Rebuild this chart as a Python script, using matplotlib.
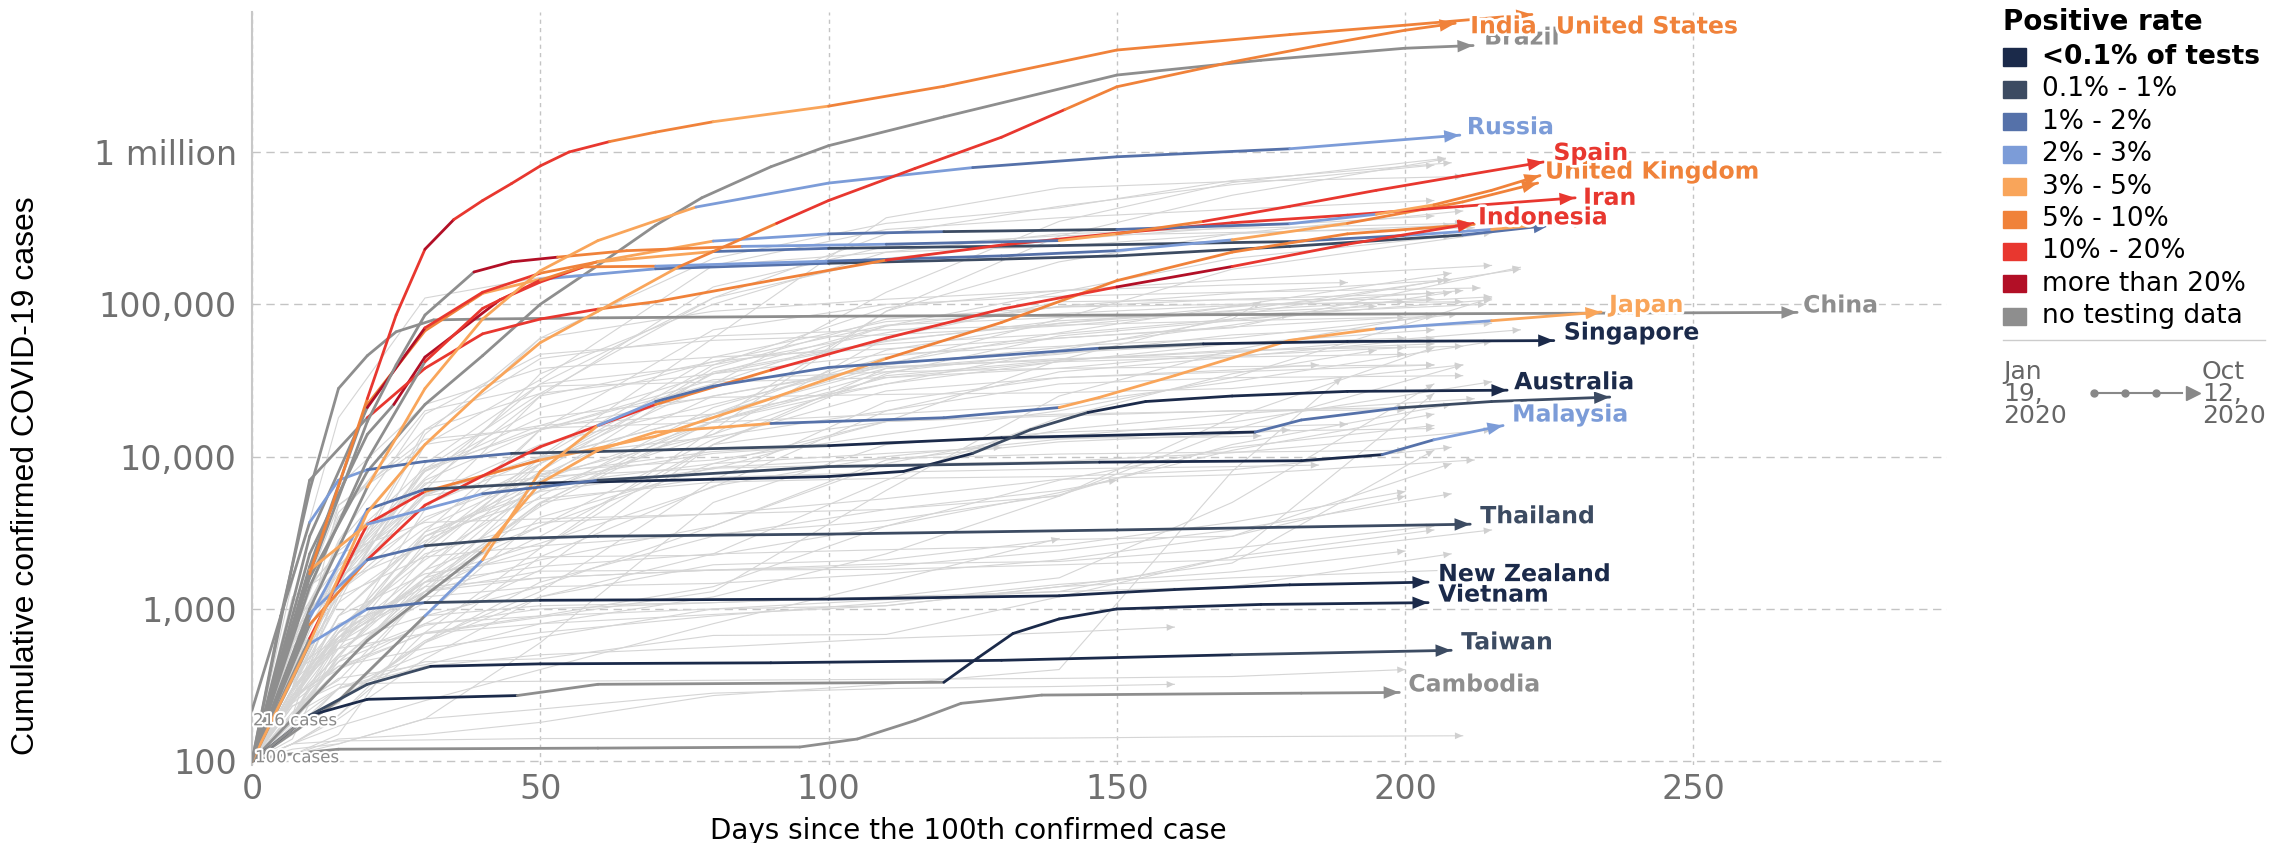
import numpy as np
import matplotlib.pyplot as plt
from matplotlib.collections import LineCollection
from matplotlib.patches import Rectangle
from matplotlib.lines import Line2D
from matplotlib.ticker import NullLocator
import matplotlib.patheffects as pe

plt.rcParams['font.family'] = 'DejaVu Sans'

# ---------------- colour classes (positive rate) ----------------
rate_labels = ['<0.1% of tests', '0.1% - 1%', '1% - 2%', '2% - 3%', '3% - 5%',
               '5% - 10%', '10% - 20%', 'more than 20%', 'no testing data']
rate_colors = ['#1b2a4a', '#3c4b62', '#5571a9', '#7c9cd8', '#f9a55a',
               '#f0823a', '#e8372f', '#b20f26', '#8e8e8e']

# ---------------- background countries (light grey) ----------------
bg_knots = [0, 7, 15, 30, 50, 80, 110, 140, 170]
bg_end_day = [205, 207, 207, 208, 210, 205, 210, 210, 212, 205,
              220, 220, 215, 208, 208, 215, 215, 220, 215, 209,
              214, 208, 208, 210, 207, 208, 190, 213, 205, 200,
              200, 185, 180, 208, 215, 215, 208, 210, 215, 205,
              208, 205, 205, 205, 200, 205, 210, 200, 189, 160,
              175, 185, 200, 212, 205, 190, 205, 200, 205, 205,
              215, 215, 200, 215, 205, 200, 195, 210, 205, 195,
              175, 180, 200, 210, 205, 208, 205, 208, 208, 205,
              212, 210, 210, 205, 205, 205, 200, 200, 200, 150,
              140, 160, 130]
bg_cases = [
    [100, 370, 1500, 8300, 26000, 110000, 290000, 440000, 610000, 820000],
    [100, 300, 1100, 2800, 6000, 17000, 90000, 280000, 520000, 900000],
    [100, 500, 1600, 3800, 9000, 30000, 120000, 350000, 630000, 910000],
    [100, 400, 1100, 12000, 60000, 200000, 340000, 430000, 650000, 850000],
    [100, 700, 1500, 2600, 10000, 60000, 370000, 580000, 640000, 690000],
    [100, 630, 2700, 12000, 32000, 180000, 310000, 370000, 420000, 480000],
    [100, 250, 700, 1500, 2500, 15000, 90000, 190000, 290000, 410000],
    [100, 560, 1300, 6000, 35000, 100000, 220000, 290000, 315000, 340000],
    [100, 1000, 2400, 6500, 25000, 130000, 240000, 282000, 296000, 318000],
    [100, 260, 1200, 9000, 30000, 110000, 200000, 265000, 320000, 380000],
    [100, 800, 6400, 22000, 38000, 45000, 51000, 60000, 70000, 175000],
    [100, 600, 2800, 19000, 47000, 58000, 63000, 72000, 90000, 170000],
    [100, 400, 1400, 14000, 60000, 90000, 108000, 123000, 145000, 180000],
    [100, 400, 1900, 8000, 16000, 35000, 72000, 120000, 200000, 280000],
    [100, 1500, 18000, 110000, 150000, 180000, 220000, 240000, 290000, 330000],
    [100, 300, 4800, 12000, 16000, 19000, 40000, 80000, 170000, 295000],
    [100, 300, 1500, 6700, 8000, 9500, 14000, 20000, 33000, 110000],
    [100, 650, 4000, 20000, 29000, 30900, 33000, 38000, 48000, 68000],
    [100, 800, 4800, 13000, 15400, 16800, 19000, 22000, 31000, 57000],
    [100, 640, 4300, 15000, 26000, 35000, 47000, 53000, 60000, 86000],
    [100, 620, 1900, 8000, 21000, 42000, 73000, 82000, 85000, 100000],
    [100, 700, 2500, 8400, 15000, 25000, 40000, 52000, 73000, 120000],
    [100, 300, 1300, 5500, 12000, 22000, 41000, 65000, 97000, 160000],
    [100, 250, 650, 2500, 8000, 38000, 80000, 96000, 100000, 104000],
    [100, 280, 900, 3200, 5900, 8300, 17000, 43000, 84000, 145000],
    [100, 800, 1900, 7200, 30000, 40000, 65000, 97000, 118000, 145000],
    [100, 300, 700, 2500, 9000, 40000, 95000, 123000, 134000, 139000],
    [100, 400, 550, 2700, 15000, 68000, 100000, 113000, 120000, 128000],
    [100, 300, 750, 2100, 6000, 14000, 60000, 104000, 107000, 108000],
    [100, 230, 340, 1300, 5000, 17000, 36000, 48000, 55000, 60000],
    [100, 200, 400, 1500, 4700, 17000, 33000, 42000, 45000, 47000],
    [100, 180, 250, 620, 1300, 7000, 23000, 33000, 37000, 40000],
    [100, 130, 200, 700, 2500, 12000, 35000, 62000, 78000, 85000],
    [100, 460, 1200, 2200, 2600, 3100, 3800, 5600, 12000, 22000],
    [100, 1200, 1900, 5500, 7400, 8400, 8900, 9300, 10600, 15000],
    [100, 900, 1300, 3400, 7700, 10800, 12300, 13600, 16800, 31000],
    [100, 270, 700, 3000, 5300, 6800, 7200, 7400, 8200, 11500],
    [100, 300, 1300, 8100, 18000, 24500, 25600, 26300, 28000, 40000],
    [100, 330, 650, 1300, 1770, 1800, 1820, 1950, 2100, 3300],
    [100, 270, 600, 1300, 1600, 1800, 1980, 2050, 2500, 3500],
    [100, 350, 800, 1200, 1400, 1470, 1700, 2100, 3000, 9000],
    [100, 250, 900, 1700, 2200, 2250, 3500, 5800, 11000, 19000],
    [100, 300, 550, 690, 800, 1200, 2300, 5500, 18000, 52000],
    [100, 210, 350, 430, 650, 1000, 1150, 1300, 2200, 26000],
    [100, 260, 420, 550, 700, 900, 1100, 1450, 1750, 2400],
    [100, 240, 420, 690, 880, 1300, 6000, 25000, 50000, 86000],
    [100, 600, 1700, 5600, 9700, 19000, 50000, 75000, 96000, 123000],
    [100, 130, 190, 470, 1200, 1950, 2100, 2850, 3000, 5500],
    [100, 110, 140, 150, 180, 270, 320, 400, 8000, 33000],
    [100, 110, 130, 190, 220, 280, 300, 310, 320],
    [100, 180, 500, 1600, 7000, 17000, 30000, 50000, 80000, 104000],
    [100, 200, 450, 1400, 5000, 7300, 7900, 8300, 8600, 8800],
    [100, 290, 620, 1500, 1900, 2300, 2450, 2600, 3700, 5900],
    [100, 1100, 2300, 3700, 3900, 4200, 5300, 7100, 7600, 9500],
    [100, 300, 600, 900, 1050, 1100, 1200, 1600, 5000, 30000],
    [100, 120, 130, 190, 600, 5000, 12000, 14500, 15600, 16300],
    [100, 170, 250, 600, 2200, 6400, 10000, 13000, 14600, 15300],
    [100, 250, 500, 1800, 3500, 9000, 17000, 18500, 20000, 21000],
    [100, 200, 600, 1600, 2700, 6300, 20000, 36000, 45000, 60000],
    [100, 200, 650, 1500, 3500, 13000, 27000, 33000, 36000, 40000],
    [100, 200, 300, 1300, 7000, 36000, 58000, 75000, 91000, 112000],
    [100, 140, 600, 4500, 25000, 42000, 55000, 64000, 80000, 107000],
    [100, 180, 480, 2200, 9800, 45000, 77000, 87000, 98000, 104000],
    [100, 200, 550, 1100, 4900, 19000, 38000, 47000, 63000, 75000],
    [100, 580, 1800, 7000, 15000, 30000, 72000, 96000, 108000, 118000],
    [100, 270, 400, 1600, 5500, 21000, 45000, 60000, 71000, 82000],
    [100, 250, 500, 1800, 9000, 35000, 57000, 78000, 88000, 97000],
    [100, 300, 1300, 4000, 7500, 14000, 34000, 43000, 50000, 53000],
    [100, 240, 600, 3200, 15000, 32000, 36000, 38000, 39000, 40000],
    [100, 130, 200, 600, 1200, 2300, 7000, 18000, 35000, 50000],
    [100, 250, 700, 3000, 7000, 10500, 12500, 13200, 13500, 13700],
    [100, 110, 150, 900, 1400, 3500, 9500, 12500, 14000, 15000],
    [100, 230, 320, 330, 335, 340, 345, 350, 360, 400],
    [100, 130, 136, 138, 141, 141, 141, 142, 145, 147],
    [100, 150, 300, 450, 470, 670, 680, 1200, 2200, 3300],
    [100, 200, 480, 800, 900, 1000, 1050, 1400, 1600, 1800],
    [100, 160, 300, 510, 800, 920, 1050, 1400, 2000, 11000],
    [100, 250, 450, 780, 1000, 1100, 1200, 1300, 1400, 2300],
    [100, 300, 700, 1400, 1600, 1800, 1900, 2400, 3300, 5700],
    [100, 200, 400, 700, 900, 1400, 3500, 7000, 11500, 16000],
    [100, 300, 650, 1300, 2100, 3500, 9000, 15000, 19000, 24000],
    [100, 380, 1400, 5700, 10000, 13500, 20000, 30000, 33000, 34000],
    [100, 250, 750, 2300, 3700, 4200, 4500, 5500, 15000, 40000],
    [100, 200, 1500, 15000, 44000, 62000, 68000, 73000, 78000, 83000],
    [100, 300, 1900, 4800, 9800, 19000, 30000, 42000, 55000, 68000],
    [100, 400, 650, 1800, 7500, 25000, 39000, 43000, 49000, 55000],
    [100, 180, 400, 800, 1800, 12000, 38000, 44000, 46000, 52000],
    [100, 200, 450, 1300, 3000, 12000, 17000, 19000, 19900, 20300],
    [100, 170, 240, 900, 4000, 8500, 9700, 10400, 10700, 11000],
    [100, 150, 250, 600, 1500, 3000, 4500, 6000, 7000],
    [100, 130, 170, 250, 400, 800, 1500, 2900],
    [100, 180, 300, 420, 500, 560, 640, 700, 760],
    [100, 250, 900, 3000, 6500, 9000, 10500, 11500],
]

# ---------------- highlighted countries ----------------
# rate entries = colour class of each segment between consecutive points
us_days = [0, 5, 10, 15, 20, 25, 30, 35, 40, 45, 50, 55, 62, 70, 80, 100, 120, 150, 180, 200, 222]
us_cases = [100, 400, 1700, 6400, 24000, 85000, 230000, 360000, 480000, 620000, 810000, 1000000,
            1170000, 1350000, 1580000, 2000000, 2700000, 4670000, 5900000, 6800000, 8000000]
us_rate = [8, 8, 5, 5, 6, 6, 7, 6, 6, 6, 6, 6, 5, 5, 4, 5, 5, 5, 5, 5]

india_days = [0, 10, 20, 30, 40, 50, 60, 74, 91, 100, 115, 130, 141, 150, 170, 185, 200, 208.7]
india_cases = [100, 600, 4300, 12000, 27000, 56000, 90000, 176000, 340000, 480000, 780000,
               1250000, 1900000, 2680000, 3900000, 5000000, 6300000, 7000000]
india_rate = [4, 4, 4, 4, 4, 4, 4, 5, 6, 6, 6, 6, 5, 5, 5, 5, 5]

brazil_days = [0, 10, 20, 30, 40, 50, 60, 70, 78, 90, 100, 120, 150, 175, 200, 211.8]
brazil_cases = [100, 1600, 8000, 22000, 46000, 100000, 180000, 330000, 500000, 800000, 1100000,
                1700000, 3200000, 4000000, 4800000, 5000000]
brazil_rate = [8, 8, 8, 8, 8, 8, 8, 8, 8, 8, 8, 8, 8, 8, 8]

russia_days = [0, 10, 20, 30, 40, 50, 60, 77, 100, 125, 150, 180, 209.5]
russia_cases = [100, 1000, 6300, 28000, 80000, 166000, 262000, 435000, 625000, 790000, 930000,
                1050000, 1290000]
russia_rate = [8, 8, 4, 4, 4, 4, 4, 3, 3, 2, 2, 3]

spain_days = [0, 10, 20, 25, 30, 38.5, 45, 53, 65, 85, 110, 140, 150, 165, 180, 195, 210, 224]
spain_cases = [100, 1700, 17000, 40000, 85000, 163000, 190000, 204000, 225000, 240000, 248000,
               262000, 290000, 350000, 440000, 560000, 700000, 860000]
spain_rate = [8, 8, 8, 8, 8, 7, 7, 5, 5, 3, 2, 4, 5, 6, 6, 6, 6]

uk_days = [0, 10, 20, 30, 40, 50, 60, 80, 100, 120, 150, 180, 195, 205, 215, 223.4]
uk_cases = [100, 1400, 9500, 42000, 94000, 144000, 191000, 260000, 290000, 300000, 310000,
            338000, 390000, 450000, 560000, 700000]
uk_rate = [8, 8, 8, 6, 6, 5, 4, 3, 2, 1, 2, 3, 4, 5, 5]

france_days = [0, 10, 20, 24.6, 30, 43, 50, 57.5, 70, 100, 130, 150, 170, 190, 210, 223]
france_cases = [100, 2300, 14000, 22000, 45000, 107000, 140000, 176000, 178000, 192000, 208000,
                225000, 265000, 340000, 470000, 625000]
france_rate = [8, 8, 8, 7, 7, 6, 6, 5, 3, 2, 2, 3, 4, 5, 5]

italy_days = [0, 10, 20, 30, 40, 50, 60, 80, 100, 140, 180, 200, 215, 232]
italy_cases = [100, 3000, 21000, 70000, 120000, 160000, 190000, 222000, 233000, 243000, 258000,
               283000, 310000, 355000]
italy_rate = [8, 8, 7, 6, 6, 5, 4, 2, 1, 1, 2, 3, 4]

germany_days = [0, 10, 20, 30, 40, 50, 70, 100, 130, 150, 180, 210, 225]
germany_cases = [100, 1900, 22000, 67000, 118000, 146000, 171000, 186000, 198000, 208000, 240000,
                 285000, 330000]
germany_rate = [8, 8, 5, 5, 4, 3, 2, 1, 1, 1, 1, 2]

iran_days = [0, 10, 20, 30, 40, 50, 60, 70, 90, 110, 130, 150, 170, 190, 210, 229.5]
iran_cases = [100, 7000, 18000, 38000, 64000, 80000, 93000, 104000, 143000, 195000, 245000,
              293000, 343000, 385000, 440000, 500000]
iran_rate = [8, 8, 6, 6, 6, 6, 5, 5, 5, 6, 6, 6, 6, 6, 6]

indonesia_days = [0, 10, 20, 30, 50, 70, 90, 110, 130, 150, 170, 190, 211.8]
indonesia_cases = [100, 790, 2100, 4800, 11600, 22000, 37000, 60000, 93000, 130000, 177000,
                   248000, 340000]
indonesia_rate = [8, 5, 6, 6, 6, 5, 6, 6, 6, 7, 6, 6]

philippines_days = [0, 10, 20, 30, 50, 70, 90, 110, 130, 150, 170, 190, 212]
philippines_cases = [100, 640, 3600, 5900, 9500, 13600, 24000, 44000, 76000, 143000, 220000,
                     290000, 335000]
philippines_rate = [8, 6, 6, 5, 4, 4, 4, 5, 5, 5, 5, 5]

japan_days = [0, 20, 40, 50, 60, 70, 90, 120, 140, 147, 160, 180, 195, 215, 234]
japan_cases = [100, 620, 2400, 6700, 11000, 14500, 16500, 18000, 21000, 24500, 34000, 58000,
               69000, 78000, 89000]
japan_rate = [8, 8, 4, 4, 4, 4, 2, 2, 4, 4, 4, 4, 3, 4]

china_days = [0, 5, 10, 15, 20, 25, 31.5, 40, 60, 100, 150, 200, 268]
china_cases = [216, 900, 6000, 28000, 46000, 66000, 79000, 80000, 81500, 83500, 85000, 86500, 88500]
china_rate = [8, 8, 8, 8, 8, 8, 8, 8, 8, 8, 8, 8]

singapore_days = [0, 15, 30, 40, 50, 60, 70, 80, 100, 120, 147, 165, 190, 225.8]
singapore_cases = [100, 250, 900, 2100, 8000, 16000, 23000, 29000, 38500, 43500, 51500, 55000,
                   57000, 57800]
singapore_rate = [8, 8, 3, 4, 4, 3, 2, 2, 2, 2, 1, 0, 0]

korea_days = [0, 5, 10, 15, 20, 30, 45, 60, 100, 130, 174, 182, 199, 215, 235.5]
korea_cases = [100, 900, 3700, 7000, 8200, 9300, 10500, 10800, 11800, 13300, 14500, 17400,
               20900, 23000, 24600]
korea_rate = [8, 8, 3, 3, 2, 2, 1, 1, 0, 0, 2, 2, 1, 1]

australia_days = [0, 10, 20, 30, 50, 80, 100, 113, 125, 135, 145, 155, 170, 190, 217.7]
australia_cases = [100, 870, 4500, 6100, 6700, 7100, 7400, 8000, 10500, 15000, 19500, 23000,
                   25000, 26800, 27300]
australia_rate = [8, 3, 2, 1, 0, 0, 0, 0, 1, 1, 0, 0, 0, 0]

malaysia_days = [0, 10, 20, 40, 60, 100, 147, 182, 196, 205, 217]
malaysia_cases = [100, 1800, 3600, 5700, 7000, 8600, 9200, 9400, 10300, 12900, 16000]
malaysia_rate = [8, 4, 3, 2, 1, 1, 0, 0, 2, 3]

thailand_days = [0, 10, 20, 30, 45, 60, 100, 150, 211.3]
thailand_cases = [100, 930, 2100, 2600, 2900, 3000, 3100, 3300, 3600]
thailand_rate = [8, 3, 2, 1, 1, 1, 1, 1]

nz_days = [0, 10, 20, 30, 50, 100, 140, 150, 160, 180, 204]
nz_cases = [100, 590, 1000, 1100, 1140, 1160, 1220, 1280, 1340, 1440, 1500]
nz_rate = [8, 3, 2, 1, 0, 0, 0, 0, 0, 0]

vietnam_days = [0, 10, 20, 46, 60, 120, 126, 132, 140, 150, 175, 204]
vietnam_cases = [100, 200, 255, 270, 320, 330, 480, 690, 860, 1000, 1070, 1100]
vietnam_rate = [0, 0, 0, 8, 8, 0, 0, 0, 0, 0, 0]

taiwan_days = [0, 10, 20, 31, 50, 90, 130, 170, 208]
taiwan_cases = [100, 200, 320, 420, 436, 443, 460, 500, 535]
taiwan_rate = [8, 1, 1, 0, 0, 0, 0, 1]

cambodia_days = [0, 5, 15, 60, 95, 105, 115, 123, 137, 182, 199]
cambodia_cases = [100, 110, 120, 122, 124, 140, 185, 240, 272, 280, 283]
cambodia_rate = [8, 8, 8, 8, 8, 8, 8, 8, 8, 8]

# name, days, cases, rate classes, show label
highlighted = [
    ('China', china_days, china_cases, china_rate, True),
    ('Brazil', brazil_days, brazil_cases, brazil_rate, True),
    ('Cambodia', cambodia_days, cambodia_cases, cambodia_rate, True),
    ('Germany', germany_days, germany_cases, germany_rate, False),
    ('Italy', italy_days, italy_cases, italy_rate, False),
    ('France', france_days, france_cases, france_rate, False),
    ('Philippines', philippines_days, philippines_cases, philippines_rate, False),
    ('South Korea', korea_days, korea_cases, korea_rate, False),
    ('Iran', iran_days, iran_cases, iran_rate, True),
    ('Indonesia', indonesia_days, indonesia_cases, indonesia_rate, True),
    ('United Kingdom', uk_days, uk_cases, uk_rate, True),
    ('Spain', spain_days, spain_cases, spain_rate, True),
    ('Russia', russia_days, russia_cases, russia_rate, True),
    ('Japan', japan_days, japan_cases, japan_rate, True),
    ('Singapore', singapore_days, singapore_cases, singapore_rate, True),
    ('Australia', australia_days, australia_cases, australia_rate, True),
    ('Malaysia', malaysia_days, malaysia_cases, malaysia_rate, True),
    ('Thailand', thailand_days, thailand_cases, thailand_rate, True),
    ('New Zealand', nz_days, nz_cases, nz_rate, True),
    ('Vietnam', vietnam_days, vietnam_cases, vietnam_rate, True),
    ('Taiwan', taiwan_days, taiwan_cases, taiwan_rate, True),
    ('India', india_days, india_cases, india_rate, True),
    ('United States', us_days, us_cases, us_rate, True),
]

# label offsets from the arrow tip, in pixels (right, up)
label_offset = {'India': (15, -3), 'United States': (24, -12), 'Brazil': (11, 8),
                'Russia': (7, 8), 'Spain': (10, 9), 'United Kingdom': (5, 4),
                'Iran': (8, 0), 'Indonesia': (5, 6), 'Japan': (8, 7), 'China': (6, 7),
                'Australia': (7, 8), 'Malaysia': (9, 11), 'Cambodia': (9, 8)}

y_ticks = [100, 1000, 10000, 100000, 1000000]
y_ticklabels = ['100', '1,000', '10,000', '100,000', '1 million']
x_ticks = [0, 50, 100, 150, 200, 250]

# ---------------- figure ----------------
W, H = 2279, 843
fig = plt.figure(figsize=(W / 100, H / 100), dpi=100)
ax = fig.add_axes([252 / W, 1 - 765 / H, (1947 - 252) / W, (765 - 12) / H])

ax.set_yscale('log')
ax.set_xlim(0, 294)
ax.set_ylim(94.5, 8.3e6)

halo = [pe.withStroke(linewidth=4, foreground='white')]

# background lines
for end, vals in zip(bg_end_day, bg_cases):
    d = [k for k in bg_knots if k < end] + [end]
    ax.plot(d, vals, color='#d5d5d5', lw=0.8, zorder=1, solid_joinstyle='round')
    ax.annotate('', xy=(d[-1], vals[-1]), xytext=(d[-2], vals[-2]),
                arrowprops=dict(arrowstyle='-|>,head_length=0.8,head_width=0.35',
                                color='#d0d0d0', lw=0, shrinkA=0, shrinkB=0,
                                mutation_scale=7), zorder=1)

# highlighted lines
for i, (name, days, cases, rates, show) in enumerate(highlighted):
    pts = np.column_stack([days, cases])
    segs = [pts[j:j + 2] for j in range(len(pts) - 1)]
    lc = LineCollection(segs, colors=[rate_colors[r] for r in rates], linewidths=2.0,
                        capstyle='round', joinstyle='round', zorder=3 + i * 0.01)
    ax.add_collection(lc)
    end_col = rate_colors[rates[-1]]
    ax.annotate('', xy=(days[-1], cases[-1]), xytext=(days[-2], cases[-2]),
                arrowprops=dict(arrowstyle='-|>,head_length=0.75,head_width=0.3',
                                color=end_col, lw=0, shrinkA=0, shrinkB=0,
                                mutation_scale=15), zorder=3.5)
    if show:
        dx, dy = label_offset.get(name, (10, 8))
        ax.annotate(name, xy=(days[-1], cases[-1]), xytext=(dx, dy),
                    textcoords='offset pixels', ha='left', va='center',
                    fontsize=17, fontweight='bold', color=end_col,
                    path_effects=halo, zorder=7 if name == 'United States' else 6)

# start annotations
ax.annotate('216 cases', xy=(0, 216), xytext=(1, -10), textcoords='offset pixels',
            ha='left', va='center', fontsize=12, color='#8a8a8a',
            path_effects=[pe.withStroke(linewidth=3, foreground='white')], zorder=8)
ax.annotate('100 cases', xy=(0, 100), xytext=(3, 4), textcoords='offset pixels',
            ha='left', va='center', fontsize=12, color='#8a8a8a',
            path_effects=[pe.withStroke(linewidth=3, foreground='white')], zorder=8)

# axes styling
ax.set_yticks(y_ticks)
ax.set_yticklabels(y_ticklabels)
ax.yaxis.set_minor_locator(NullLocator())
ax.set_xticks(x_ticks)
ax.tick_params(axis='both', length=0, labelsize=24, labelcolor='#707070')
ax.tick_params(axis='y', pad=11)
ax.tick_params(axis='x', pad=6)
for s in ['top', 'right', 'bottom']:
    ax.spines[s].set_visible(False)
ax.spines['left'].set_color('#c8c8c8')
ax.spines['left'].set_linewidth(1.5)
ax.xaxis.grid(True, linestyle=(0, (3, 3)), color='#c4c4c4', lw=1.0)
ax.yaxis.grid(True, linestyle=(0, (6, 4)), color='#c4c4c4', lw=1.0)
ax.set_axisbelow(True)

fig.text(26 / W, 1 - 476 / H, 'Cumulative confirmed COVID-19 cases', rotation=90,
         ha='center', va='center', fontsize=23,
         family=['Liberation Sans Narrow', 'Liberation Sans'])
fig.text(968 / W, 1 - 831 / H, 'Days since the 100th confirmed case',
         ha='center', va='center', fontsize=20)

# ---------------- legend ----------------
def fx(px):
    return px / W


def fy(py):
    return 1 - py / H


fig.text(fx(2003), fy(22), 'Positive rate', ha='left', va='center',
         fontsize=20, fontweight='bold')
row_y0, row_step = 57, 32.4
for k, (lab, col) in enumerate(zip(rate_labels, rate_colors)):
    yc = row_y0 + k * row_step
    fig.patches.append(Rectangle((fx(2003), fy(yc + 8.5)), 23 / W, 17 / H,
                                 transform=fig.transFigure, color=col))
    fig.text(fx(2042), fy(yc), lab, ha='left', va='center', fontsize=19,
             fontweight='bold' if k == 0 else 'normal')

fig.lines.append(Line2D([fx(2003), fx(2265)], [fy(340), fy(340)],
                        transform=fig.transFigure, color='#cccccc', lw=1))
fig.text(fx(2003), fy(394), 'Jan\n19,\n2020', ha='left', va='center',
         fontsize=18, color='#666666', linespacing=0.9)
fig.text(fx(2202), fy(394), 'Oct\n12,\n2020', ha='left', va='center',
         fontsize=18, color='#666666', linespacing=0.9)
fig.lines.append(Line2D([fx(2094), fx(2182)], [fy(393), fy(393)],
                        transform=fig.transFigure, color='#888888', lw=1.5))
fig.lines.append(Line2D([fx(2094), fx(2125), fx(2156)], [fy(393)] * 3,
                        transform=fig.transFigure, color='#888888', lw=0,
                        marker='o', markersize=5))
fig.lines.append(Line2D([fx(2193)], [fy(393)], transform=fig.transFigure,
                        color='#888888', lw=0, marker='>', markersize=10))

fig.savefig('out.png', dpi=100)
